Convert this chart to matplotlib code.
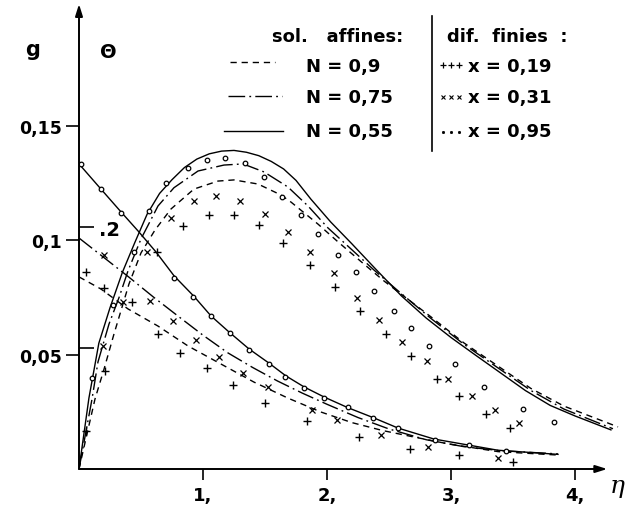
import numpy as np
import matplotlib.pyplot as plt
from matplotlib.lines import Line2D

plt.rcParams['font.family'] = 'DejaVu Sans'
plt.rcParams['font.weight'] = 'bold'
plt.rcParams['lines.scale_dashes'] = False

# ---- data (theta curves given on the g scale) ----
# affine solutions, g profiles
eta_g_09 = [0, 0.129, 0.202, 0.282, 0.403, 0.5, 0.613, 0.742, 0.927, 1.121, 1.25, 1.444,
            1.629, 1.71, 1.927, 2.089, 2.298, 2.46, 2.597, 2.839, 3.105, 3.379, 3.645, 3.911, 4.347]
g_09 = [0, 0.0306, 0.0437, 0.059, 0.0809, 0.0945, 0.1045, 0.1137, 0.1224, 0.1259, 0.1264, 0.1246,
        0.1198, 0.1167, 0.1071, 0.0993, 0.0896, 0.0822, 0.0765, 0.0665, 0.0551, 0.045, 0.0352, 0.0275, 0.0184]

eta_g_075 = [0, 0.105, 0.153, 0.242, 0.323, 0.395, 0.5, 0.637, 0.766, 0.96, 1.169, 1.323, 1.492,
             1.685, 1.847, 2.008, 2.194, 2.379, 2.556, 2.839, 3.105, 3.379, 3.645, 3.911, 4.306]
g_075 = [0, 0.0306, 0.0468, 0.0634, 0.075, 0.0866, 0.1006, 0.115, 0.123, 0.1303, 0.1329, 0.1334, 0.1299,
         0.1233, 0.115, 0.1054, 0.0962, 0.087, 0.0787, 0.0658, 0.0545, 0.0442, 0.0343, 0.0262, 0.0176]

eta_g_055 = [0, 0.08, 0.16, 0.25, 0.35, 0.45, 0.55, 0.65, 0.75, 0.85, 0.95, 1.05, 1.15, 1.25, 1.35,
             1.45, 1.55, 1.65, 1.75, 1.87, 2.03, 2.2, 2.4, 2.6, 2.8, 3.0, 3.2, 3.4, 3.6, 3.8, 4.0, 4.29]
g_055 = [0, 0.031, 0.055, 0.0705, 0.086, 0.099, 0.1115, 0.1205, 0.1265, 0.1318, 0.1355, 0.1378, 0.139,
         0.1393, 0.1385, 0.137, 0.1345, 0.1312, 0.1262, 0.118, 0.108, 0.0985, 0.087, 0.0757, 0.066,
         0.0575, 0.0497, 0.042, 0.0343, 0.0278, 0.0232, 0.0171]

# affine solutions, theta profiles
eta_t_09 = [0, 0.177, 0.395, 0.637, 0.879, 1.145, 1.411, 1.685, 1.952, 2.2, 2.45, 2.7, 2.976, 3.379, 3.863]
t_09 = [0.084, 0.0787, 0.07, 0.0625, 0.0538, 0.0459, 0.038, 0.031, 0.0249, 0.0203, 0.0168, 0.014,
        0.011, 0.0076, 0.0061]

eta_t_075 = [0, 0.2, 0.4, 0.6, 0.8, 1.0, 1.2, 1.4, 1.6, 1.8, 2.0, 2.25, 2.5, 2.8, 3.1, 3.4, 3.863]
t_075 = [0.101, 0.0925, 0.084, 0.0752, 0.0668, 0.0585, 0.0508, 0.0444, 0.0385, 0.0332, 0.0283, 0.0225,
         0.0175, 0.0128, 0.0098, 0.008, 0.0066]

eta_t_055 = [0, 0.177, 0.339, 0.476, 0.621, 0.766, 0.927, 1.065, 1.21, 1.371, 1.532, 1.669, 1.815,
             1.976, 2.169, 2.371, 2.573, 2.863, 3.137, 3.379, 3.863]
t_055 = [0.1334, 0.1224, 0.1124, 0.1041, 0.0949, 0.0845, 0.0755, 0.0669, 0.0599, 0.0525, 0.0463, 0.0407,
         0.0359, 0.0315, 0.0268, 0.0225, 0.0179, 0.0131, 0.0105, 0.0082, 0.0064]

# finite differences, g
eta_gp_019 = [0.056, 0.21, 0.427, 0.629, 0.839, 1.048, 1.25, 1.452, 1.645, 1.863, 2.065, 2.266, 2.476,
              2.677, 2.887, 3.065, 3.282, 3.476]
gp_019 = [0.0166, 0.0428, 0.073, 0.0949, 0.1063, 0.1111, 0.1111, 0.1067, 0.0988, 0.0892, 0.0796, 0.0691,
          0.059, 0.0494, 0.0394, 0.0319, 0.024, 0.0179]

eta_gp_031 = [0.194, 0.355, 0.548, 0.742, 0.927, 1.105, 1.298, 1.5, 1.685, 1.863, 2.056, 2.242, 2.419,
              2.605, 2.806, 2.976, 3.169, 3.355, 3.548]
gp_031 = [0.0538, 0.073, 0.0949, 0.1097, 0.1172, 0.1194, 0.1172, 0.1115, 0.1036, 0.0949, 0.0857, 0.0748,
          0.0652, 0.0555, 0.0472, 0.0394, 0.0319, 0.0258, 0.0201]

eta_gp_095 = [0.105, 0.274, 0.444, 0.565, 0.702, 0.879, 1.032, 1.177, 1.339, 1.492, 1.637, 1.79, 1.927,
              2.089, 2.234, 2.379, 2.54, 2.677, 2.823, 3.032, 3.266, 3.581, 3.831]
gp_095 = [0.0398, 0.0717, 0.0949, 0.1128, 0.1251, 0.1316, 0.1351, 0.136, 0.1338, 0.1277, 0.1189, 0.1111,
          0.1028, 0.0936, 0.0861, 0.0778, 0.0691, 0.0617, 0.0538, 0.0459, 0.0359, 0.0262, 0.0206]

# finite differences, theta
eta_tp_019 = [0.056, 0.202, 0.637, 0.815, 1.032, 1.242, 1.5, 1.839, 2.258, 2.669, 3.065, 3.5]
tp_019 = [0.0861, 0.0791, 0.059, 0.0507, 0.0442, 0.0367, 0.0289, 0.021, 0.014, 0.0087, 0.0061, 0.0031]

eta_tp_031 = [0.202, 0.573, 0.758, 0.944, 1.129, 1.323, 1.524, 1.879, 2.081, 2.435, 2.815, 3.379]
tp_031 = [0.0936, 0.0735, 0.0647, 0.0564, 0.049, 0.042, 0.0359, 0.0258, 0.0214, 0.0149, 0.0096, 0.0048]

eta_tp_095 = [0.02, 0.177, 0.339, 0.766, 0.919, 1.065, 1.218, 1.371, 1.532, 1.661, 1.815, 1.976, 2.169,
              2.371, 2.573, 2.871, 3.145, 3.44]
tp_095 = [0.1334, 0.1224, 0.1119, 0.0835, 0.0752, 0.0669, 0.0595, 0.052, 0.0459, 0.0402, 0.0354, 0.031,
          0.0271, 0.0223, 0.0179, 0.0127, 0.0105, 0.0079]

x_ticks = [1, 2, 3, 4]
x_tick_labels = ['1,', '2,', '3,', '4,']
y_ticks = [0.05, 0.1, 0.15]
y_tick_labels = ['0,05', '0,1', '0,15']
theta_ticks = [0.1, 0.2]
theta_tick_labels = ['', '.2']
theta_per_g = 0.2 / 0.1058   # theta scale drawn on the g axis

N_labels = ['N = 0,9', 'N = 0,75', 'N = 0,55']
x_labels = ['x = 0,19', 'x = 0,31', 'x = 0,95']

# ---- figure ----
W, H = 634, 510
fig = plt.figure(figsize=(W / 100, H / 100), dpi=100)
# eta=0 at x=79px (124 px per unit), g=0 at y=470px (2287 px per unit)
ax = fig.add_axes([79 / W, 40 / H, (W - 79) / W, 470 / H])
ax.set_xlim(0, (W - 79) / 124)
ax.set_ylim(0, 470 / 2287)

dashed = (0, (4.5, 3.5))
dashdot = (0, (12, 3, 1.3, 3))
lstyles = [dashed, dashdot, '-']
lw = 1.0

for eta, g, ls in zip([eta_g_09, eta_g_075, eta_g_055], [g_09, g_075, g_055], lstyles):
    ax.plot(eta, g, color='k', lw=lw, ls=ls)
for eta, t, ls in zip([eta_t_09, eta_t_075, eta_t_055], [t_09, t_075, t_055], lstyles):
    ax.plot(eta, t, color='k', lw=lw, ls=ls)

plus_kw = dict(ls='none', marker='+', ms=5.5, mew=1.0, color='k')
cross_kw = dict(ls='none', marker='x', ms=3.8, mew=0.9, color='k')
circ_kw = dict(ls='none', marker='o', ms=3.3, mew=0.9, mfc='white', mec='k')
ax.plot(eta_gp_019, gp_019, **plus_kw)
ax.plot(eta_tp_019, tp_019, **plus_kw)
ax.plot(eta_gp_031, gp_031, **cross_kw)
ax.plot(eta_tp_031, tp_031, **cross_kw)
ax.plot(eta_gp_095, gp_095, **circ_kw)
ax.plot(eta_tp_095, tp_095, **circ_kw)

# axes drawn as arrows
for s in ax.spines.values():
    s.set_visible(False)
arrow = dict(arrowstyle='-|>,head_length=0.7,head_width=0.22', lw=1.4, color='k',
             shrinkA=0, shrinkB=0)
ax.annotate('', xy=(4.26, 0), xytext=(0, 0), arrowprops=arrow, annotation_clip=False)
ax.annotate('', xy=(0, 0.2033), xytext=(0, 0), arrowprops=arrow, annotation_clip=False)

ax.set_xticks(x_ticks, x_tick_labels)
ax.set_yticks(y_ticks, y_tick_labels)
ax.tick_params(axis='x', direction='out', length=8, width=1.2, pad=4, labelsize=13)
ax.tick_params(axis='y', direction='out', length=9.5, width=1.2, pad=3, labelsize=12.5)

sec = ax.secondary_yaxis(0.0, functions=(lambda g: g * theta_per_g, lambda t: t / theta_per_g))
sec.set_alignment('right')
for s in sec.spines.values():
    s.set_visible(False)
sec.set_yticks(theta_ticks, theta_tick_labels)
sec.tick_params(direction='out', length=11, width=1.2, pad=3.5, labelsize=14)

fig.text(33 / W, 1 - 56 / H, 'g', ha='center', va='baseline', fontsize=15)
fig.text(108 / W, 1 - 58 / H, 'Θ', ha='center', va='baseline', fontsize=14)
fig.text(617 / W, 1 - 487 / H, 'η', ha='center', va='center', fontsize=18,
         family='DejaVu Serif', style='italic', weight='normal')

# ---- hand-made legend ----
def fx(px):
    return px / W

def fy(py):
    return 1 - py / H

fig.text(fx(272), fy(42), 'sol.   affines:', fontsize=13, va='baseline')
fig.text(fx(447), fy(42), 'dif.  finies  :', fontsize=13, va='baseline')
fig.add_artist(Line2D([fx(432), fx(432)], [fy(17), fy(152)], color='k', lw=1.2))

row_line = [63, 97, 132]
row_base = [72, 103, 137]
sample_x = [(230, 275), (228, 282), (224, 283)]
for i in range(3):
    x0, x1 = sample_x[i]
    fig.add_artist(Line2D([fx(x0), fx(x1)], [fy(row_line[i])] * 2, color='k', lw=lw, ls=lstyles[i]))
    fig.text(fx(306), fy(row_base[i]), N_labels[i], fontsize=13, va='baseline')
    fig.text(fx(468), fy(row_base[i]), x_labels[i], fontsize=13, va='baseline')

mk_x = [fx(443), fx(451), fx(459)]
fig.add_artist(Line2D(mk_x, [fy(66)] * 3, ls='none', marker='+', ms=4, mew=0.9, color='k'))
fig.add_artist(Line2D(mk_x, [fy(98)] * 3, ls='none', marker='x', ms=2.8, mew=0.8, color='k'))
fig.add_artist(Line2D(mk_x, [fy(133)] * 3, ls='none', marker='o', ms=1.6, mew=0.6, color='k'))

fig.savefig('out.png', dpi=100)
